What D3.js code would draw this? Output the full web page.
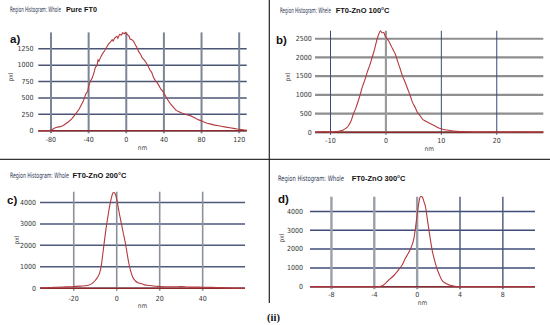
<!DOCTYPE html>
<html><head><meta charset="utf-8">
<script src="https://cdn.jsdelivr.net/npm/d3@7"></script>
<style>
html,body{margin:0;padding:0;background:#fff;}
svg{display:block;}
</style></head>
<body>
<svg id="c" width="550" height="325"></svg>
<script>
// ---------- data ----------
const aX = [-93.5,-85,-82,-79,-76,-73,-70,-67,-64,-61,-58,-55,-52,-50,-48,-46,-44,-43,-41,-40,-38,-36,-34,-33,-31,-30,-29,-27,-25,-23,-21,-19,-17,-15,-14,-12,-10,-9,-7,-5,-4,-2,-1,1,3,4,6,8,10,11,13,15,17,19,21,23,25,27,29,31,33,35,37,39,41,43,45,47,50,53,56,59,62,65,68,71,74,77,80,83,86,90,94,98,102,106,110,114,118,122,126,128];
const aY = [0,0,3,15,40,55,62,80,110,140,180,235,290,330,390,440,520,560,600,680,760,810,900,960,1000,1080,1060,1130,1180,1220,1270,1320,1350,1390,1370,1420,1440,1410,1470,1460,1495,1480,1500,1470,1440,1400,1390,1360,1300,1280,1210,1170,1110,1080,1040,990,930,890,810,760,730,680,630,600,550,500,450,410,360,310,290,270,255,240,230,210,185,165,150,130,115,100,85,75,65,55,45,35,25,18,10,5];

const bX = [-12.8,-11,-10,-9,-8.3,-7.7,-7.2,-6.8,-6.3,-5.9,-5.4,-5.0,-4.6,-4.3,-3.8,-3.4,-2.9,-2.5,-2.0,-1.6,-1.3,-1.0,-0.7,-0.4,-0.1,0.2,0.5,0.8,1.2,1.7,2.1,2.6,3.0,3.5,4.0,4.4,4.8,5.3,5.7,6.2,6.6,7.1,7.8,8.6,9.3,10.1,11,12.2,13.5,15.2,17,20,22,24,26,28.4];
const bY = [0,15,5,20,35,61,110,168,300,481,660,837,1030,1193,1400,1594,1800,1995,2250,2487,2620,2715,2660,2663,2560,2503,2440,2353,2230,2086,1900,1684,1500,1326,1130,971,800,658,530,436,350,302,250,187,130,88,60,35,20,10,5,8,4,10,5,6];

const cX = [-35.7,-30,-25,-21,-17,-13.3,-11.5,-10.2,-9,-7.9,-7.1,-6.4,-5.6,-4.8,-4.0,-3.3,-2.5,-1.7,-1.2,-0.6,0,0.6,1.3,2.1,3.0,4.0,4.8,5.6,6.5,7.6,8.7,9.9,11,12,13,14.6,17,19,22.3,26,30,33,36,40,44,48,52,56,59.7];
const cY = [20,40,60,74,100,140,220,340,500,726,1100,1656,2300,2898,3400,3828,4200,4447,4460,4372,4150,3828,3450,3051,2600,2121,1650,1191,800,493,340,260,230,200,160,140,110,90,74,70,80,60,55,50,45,30,15,5,0];

const dX = [-10,-6,-4,-3.6,-3.3,-3.0,-2.65,-2.3,-2.0,-1.7,-1.4,-1.1,-0.85,-0.6,-0.3,-0.1,0.1,0.2,0.3,0.4,0.5,0.65,0.78,0.95,1.1,1.25,1.4,1.65,1.9,2.1,2.3,2.65,3.0,3.4,3.9,6,11];
const dY = [0,0,0,10,37,150,356,530,713,920,1154,1510,1750,2043,2574,3372,4255,4600,4787,4800,4755,4500,4255,3600,3016,2450,1952,1350,888,600,356,180,90,30,0,0,0];

const aXTicks = [-80,-40,0,40,80,120];
const aYTicks = [0,250,500,750,1000,1250];
const bXTicks = [-10,0,10,20];
const bYTicks = [0,500,1000,1500,2000,2500];
const cXTicks = [-20,0,20,40];
const cYTicks = [0,1000,2000,3000,4000];
const dXTicks = [-8,-4,0,4,8];
const dYTicks = [0,1000,2000,3000,4000];

const titles = ["Region Histogram: Whole","Region Histogram: Whele","Region Histogram: Whole","Region Histogram: Whole"];
const samples = ["Pure FT0","FT0-ZnO 100°C","FT0-ZnO 200°C","FT0-ZnO 300°C"];
const letters = ["a)","b)","c)","d)"];
const xLabel = "nm", yLabel = "pxl", caption = "(ii)";

// ---------- drawing ----------
const svg = d3.select("#c");
const narrow = "'Liberation Sans Narrow','Arial Narrow','DejaVu Sans Condensed',sans-serif";
const line_col = "#b3393c";

// text squeezed horizontally to a target width (real geometry via transform)
function fitText(parent, str, x, y, width, size, weight, family, fill){
  const gg = parent.append("g");
  const t = gg.append("text").attr("x",0).attr("y",0).attr("font-family",family)
    .attr("font-size",size).attr("font-weight",weight).attr("fill",fill).text(str);
  const w = t.node().getComputedTextLength();
  const s = Math.min(1, width / w);
  gg.attr("transform",`translate(${x},${y}) scale(${s},1)`);
}

// black divider lines
svg.append("line").attr("x1",0).attr("x2",550).attr("y1",159.3).attr("y2",159.3).attr("stroke","#333").attr("stroke-width",1.2);
svg.append("line").attr("x1",269.3).attr("x2",269.3).attr("y1",0).attr("y2",303).attr("stroke","#222").attr("stroke-width",1.2);
svg.append("text").attr("x",273.5).attr("y",321).attr("text-anchor","middle")
  .attr("font-family","'Liberation Serif','DejaVu Serif',serif").attr("font-weight","bold").attr("font-size",10.5).attr("fill","#111").text(caption);

const panels = [
  {xs:aX, ys:aY, xt:aXTicks, yt:aYTicks, xd:[-93.5,128], yd:[0,1500], l:38.3, r:246.7, t:32.4, b:130.7,
   title:[10,12,51], samp:[66,12,31], let:[10,43], xlabY:141.5, nmY:150, pxl:[13,77], ylabR:33.5,
   hcol:"#4b5676", hw:1.5, vcol:()=>"#7c8497", vw:()=>2, curve:d3.curveLinear},
  {xs:bX, ys:bY, xt:bXTicks, yt:bYTicks, xd:[-12.8,28.4], yd:[0,2715], l:315, r:543.3, t:30.7, b:132.3,
   title:[280,13,51], samp:[335.7,13,72], let:[276,44], xlabY:142.5, nmY:151, pxl:[290,77], ylabR:311.7,
   hcol:"#8e8e8e", hw:2.2, vcol:v=>v===0?"#9a9a9a":"#3c4a78", vw:v=>v===0?2.2:1, curve:d3.curveMonotoneX},
  {xs:cX, ys:cY, xt:cXTicks, yt:cYTicks, xd:[-35.7,59.7], yd:[0,4500], l:40, r:245, t:191.7, b:288.3,
   title:[10,178,59], samp:[72.5,178,54], let:[7,204], xlabY:300.5, nmY:308, pxl:[19,240], ylabR:36,
   hcol:"#4e5a7c", hw:1.5, vcol:()=>"#8a909c", vw:()=>1.6, curve:d3.curveMonotoneX},
  {xs:dX, ys:dY, xt:dXTicks, yt:dYTicks, xd:[-10,11], yd:[0,4790], l:310, r:535, t:196.7, b:286.7,
   title:[278,181,66], samp:[351.7,181,54], let:[278,203], xlabY:296.5, nmY:305, pxl:[284,238], ylabR:303,
   hcol:"#3f4c78", hw:1.5, vcol:v=>v<=0?"#9aa0aa":"#4a5578", vw:v=>v<=0?2.4:1.4, curve:d3.curveMonotoneX}
];

panels.forEach((p,i)=>{
  const g = svg.append("g");
  const x = d3.scaleLinear().domain(p.xd).range([p.l,p.r]);
  const y = d3.scaleLinear().domain(p.yd).range([p.b,p.t]);

  // titles
  fitText(g, titles[i], p.title[0], p.title[1], p.title[2], 7.5, "normal", narrow, "#2e3a55");
  fitText(g, samples[i], p.samp[0], p.samp[1], p.samp[2], 7.5, "bold", "'Liberation Sans',Arial,sans-serif", "#111");
  g.append("text").attr("x",p.let[0]).attr("y",p.let[1]).attr("font-family","'Liberation Sans',Arial,sans-serif").attr("font-size",11.5)
    .attr("font-weight","bold").attr("fill","#111").text(letters[i]);

  // horizontal gridlines
  g.selectAll(".h").data(p.yt).enter().append("line")
    .attr("x1",p.l).attr("x2",p.r).attr("y1",d=>y(d)).attr("y2",d=>y(d))
    .attr("stroke",p.hcol).attr("stroke-width",p.hw);
  // vertical gridlines
  g.selectAll(".v").data(p.xt).enter().append("line")
    .attr("x1",d=>x(d)).attr("x2",d=>x(d)).attr("y1",p.t).attr("y2",p.b+2.5)
    .attr("stroke",d=>p.vcol(d)).attr("stroke-width",d=>p.vw(d));

  // tick labels
  g.selectAll(".yl").data(p.yt).enter().append("text")
    .attr("x",p.ylabR).attr("y",d=>y(d)+2.3).attr("text-anchor","end")
    .attr("font-family",narrow).attr("font-size",7).attr("fill","#333").text(d=>d);
  g.selectAll(".xl").data(p.xt).enter().append("text")
    .attr("x",d=>x(d)).attr("y",p.xlabY).attr("text-anchor","middle")
    .attr("font-family",narrow).attr("font-size",7).attr("fill","#333").text(d=>d);
  g.append("text").attr("x",(p.l+p.r)/2).attr("y",p.nmY).attr("text-anchor","middle")
    .attr("font-family",narrow).attr("font-size",6.5).attr("fill","#444").text(xLabel);
  g.append("text").attr("transform",`translate(${p.pxl[0]},${p.pxl[1]}) rotate(-90)`).attr("text-anchor","middle")
    .attr("font-family",narrow).attr("font-size",6.5).attr("fill","#444").text(yLabel);

  // baseline
  g.append("line").attr("x1",p.l).attr("x2",p.r).attr("y1",y(0)).attr("y2",y(0))
    .attr("stroke","#8a2a2a").attr("stroke-width",1.4);

  // curve
  const pts = p.xs.map((v,k)=>[v,p.ys[k]]);
  g.append("path").datum(pts)
    .attr("d",d3.line().x(d=>x(d[0])).y(d=>y(d[1])).curve(p.curve))
    .attr("fill","none").attr("stroke",line_col).attr("stroke-width",1.1);
});
</script>
</body></html>
